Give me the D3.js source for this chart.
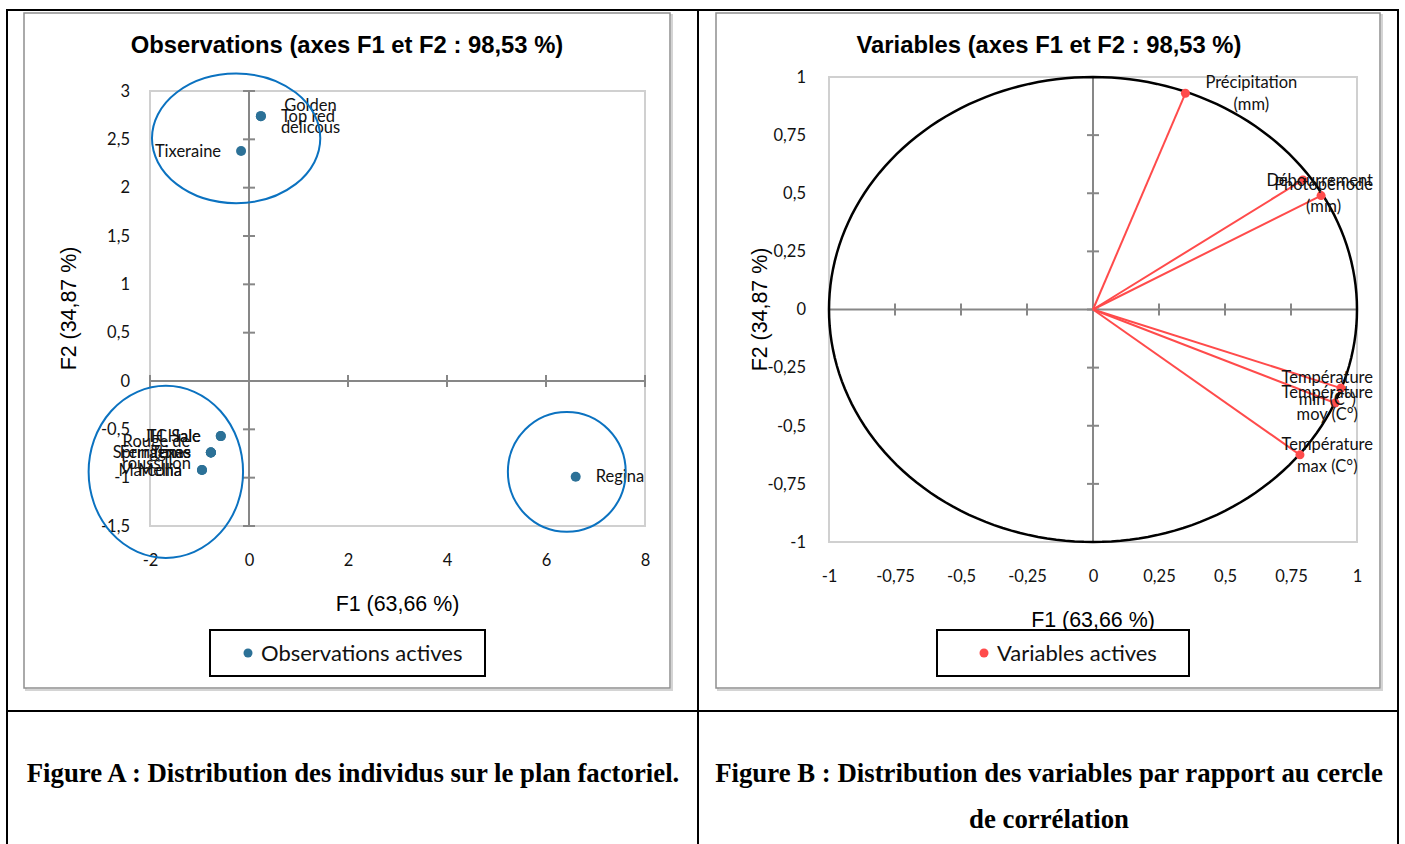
<!DOCTYPE html>
<html>
<head>
<meta charset="utf-8">
<script src="https://cdn.jsdelivr.net/npm/d3@7"></script>
<style>
  body { margin: 0; background: #fff; }
  svg { display: block; }
</style>
</head>
<body>
<svg id="fig" width="1405" height="844"></svg>
<script>
// ---- Observations (individuals) on the F1/F2 plane ----
const obsNames = ["Golden delicous", "Top red", "Tixeraine", "JH Hale", "TC Sale",
                  "Rouge de roussillon", "Springtime", "Ferragnes", "Texas",
                  "Marcona", "Mellia", "Regina"];
const obsF1 = [0.24, 0.24, -0.16, -0.57, -0.57, -0.77, -0.77, -0.77, -0.77, -0.95, -0.95, 6.60];
const obsF2 = [2.74, 2.74, 2.38, -0.57, -0.57, -0.74, -0.74, -0.74, -0.74, -0.92, -0.92, -0.99];
const obsLabelSide = ["right", "right", "left", "left", "left",
                      "left", "left", "left", "left", "left", "left", "right"];

// Groups circled on the observation map: centre (F1, F2) and radii in axis units
const groupCx = [-0.26, -1.68, 6.42];
const groupCy = [2.51, -0.94, -0.94];
const groupRx = [1.70, 1.56, 1.19];
const groupRy = [0.67, 0.89, 0.62];

const obsTicksX = [-2, 0, 2, 4, 6, 8];
const obsTicksY = [-1.5, -1, -0.5, 0, 0.5, 1, 1.5, 2, 2.5, 3];

// ---- Variables on the correlation circle ----
const varNames = ["Précipitation (mm)", "Débourrement", "Photopériode (min)",
                  "Température min (C°)", "Température moy (C°)", "Température max (C°)"];
const varF1 = [0.35, 0.795, 0.864, 0.939, 0.917, 0.784];
const varF2 = [0.93, 0.557, 0.49, -0.338, -0.402, -0.625];

const varTicks = [-1, -0.75, -0.5, -0.25, 0, 0.25, 0.5, 0.75, 1];

const titleA = "Observations (axes F1 et F2 : 98,53 %)";
const titleB = "Variables (axes F1 et F2 : 98,53 %)";
const axisTitleX = "F1 (63,66 %)";
const axisTitleY = "F2 (34,87 %)";
const legendA = "Observations actives";
const legendB = "Variables actives";
const captionA = ["Figure A : Distribution des individus sur le plan factoriel."];
const captionB = ["Figure B : Distribution des variables par rapport au cercle", "de corrélation"];

// ---- styling ----
const FONT_LBL = "Lato, 'Open Sans', sans-serif";
const FONT_SANS = "'Liberation Sans', Arial, sans-serif";
const FONT_SERIF = "'Liberation Serif', 'Times New Roman', serif";
const OBS_COLOR = "#2c7197";
const VAR_COLOR = "#ff4b4b";
const GROUP_COLOR = "#0b72c0";
const LBL_SIZE = 16.5;
const LBL_LINE = 22;

const fr = d3.formatLocale({decimal: ",", thousands: " ", grouping: [3], currency: ["", "€"], minus: "-"});
const fmt = fr.format("~g");

const svg = d3.select("#fig");

// ---- table grid ----
const grid = svg.append("g").attr("stroke", "#000").attr("stroke-width", 2).attr("fill", "none");
grid.append("line").attr("x1", 6).attr("x2", 1399).attr("y1", 10).attr("y2", 10);
grid.append("line").attr("x1", 6).attr("x2", 1399).attr("y1", 711).attr("y2", 711);
grid.append("line").attr("x1", 7).attr("x2", 7).attr("y1", 9).attr("y2", 844);
grid.append("line").attr("x1", 698).attr("x2", 698).attr("y1", 9).attr("y2", 844);
grid.append("line").attr("x1", 1398).attr("x2", 1398).attr("y1", 9).attr("y2", 844);

// chart frames with a soft shadow
function frame(x, y, w, h) {
  svg.append("rect").attr("x", x + 2).attr("y", y + 2).attr("width", w).attr("height", h)
    .attr("fill", "none").attr("stroke", "#d4d4d4").attr("stroke-width", 2);
  svg.append("rect").attr("x", x).attr("y", y).attr("width", w).attr("height", h)
    .attr("fill", "#fff").attr("stroke", "#8f8f8f").attr("stroke-width", 1.5);
}
frame(24, 13, 646, 675);
frame(716, 13, 664, 675);

// ---- helpers ----
const measurer = svg.append("text").attr("font-family", FONT_LBL).attr("font-size", LBL_SIZE)
  .attr("visibility", "hidden");
function textWidth(s) { measurer.text(s); return measurer.node().getComputedTextLength(); }
function wrap(s) {
  const maxW = 6.45 * LBL_SIZE;
  const words = s.split(" ");
  const lines = [];
  let cur = "";
  words.forEach(w => {
    const test = cur ? cur + " " + w : w;
    if (cur && textWidth(test) > maxW) { lines.push(cur); cur = w; } else cur = test;
  });
  if (cur) lines.push(cur);
  return lines;
}
function dataLabel(g, s, px, py, side, rightLimit) {
  const lines = wrap(s);
  const w = d3.max(lines, textWidth);
  let cx = side === "left" ? px - 20 - w / 2 : px + 20 + w / 2;
  if (rightLimit !== undefined && cx + w / 2 > rightLimit) cx = rightLimit - w / 2;
  const y0 = py - (lines.length - 1) * LBL_LINE / 2 + LBL_SIZE * 0.35;
  const t = g.append("text").attr("font-family", FONT_LBL).attr("font-size", LBL_SIZE)
    .attr("text-anchor", "middle").attr("fill", "#111");
  lines.forEach((l, i) => t.append("tspan").attr("x", cx).attr("y", y0 + i * LBL_LINE).text(l));
}

function panelFrame(cfg) {
  const {x, y, ticksX, ticksY, title, titleX, yTitleX, xTitleY, legendBox, legendText, color} = cfg;
  const [x0, x1] = x.range();
  const [y0, y1] = y.range(); // y0 bottom, y1 top
  const g = svg.append("g");

  g.append("text").attr("x", titleX).attr("y", 53).attr("text-anchor", "middle")
    .attr("font-family", FONT_SANS).attr("font-weight", "bold").attr("font-size", 23.8)
    .attr("fill", "#000").text(title);

  // plot area outline
  g.append("rect").attr("x", x0).attr("y", y1).attr("width", x1 - x0).attr("height", y0 - y1)
    .attr("fill", "none").attr("stroke", "#d0d0d0").attr("stroke-width", 2);

  // tick labels along the plot edges
  const ay = g.append("g").attr("transform", `translate(${x0},0)`)
    .call(d3.axisLeft(y).tickValues(ticksY).tickFormat(fmt).tickSize(0).tickPadding(cfg.yPad));
  const ax = g.append("g").attr("transform", `translate(0,${y0})`)
    .call(d3.axisBottom(x).tickValues(ticksX).tickFormat(fmt).tickSize(0).tickPadding(cfg.xPad));
  [ax, ay].forEach(a => {
    a.select(".domain").remove();
    a.selectAll("text").attr("font-family", FONT_LBL).attr("font-size", LBL_SIZE).attr("fill", "#111");
  });

  // zero axes with crossing tick marks
  const zx = x(0), zy = y(0);
  const zero = g.append("g").attr("stroke", "#878787").attr("stroke-width", 2);
  zero.append("line").attr("x1", zx).attr("x2", zx).attr("y1", y1).attr("y2", y0);
  zero.append("line").attr("x1", x0).attr("x2", x1).attr("y1", zy).attr("y2", zy);
  zero.selectAll(".ty").data(ticksY).join("line").attr("class", "ty")
    .attr("x1", zx - 6).attr("x2", zx + 6).attr("y1", d => y(d)).attr("y2", d => y(d));
  zero.selectAll(".tx").data(ticksX).join("line").attr("class", "tx")
    .attr("y1", zy - 6).attr("y2", zy + 6).attr("x1", d => x(d)).attr("x2", d => x(d));

  // axis titles
  g.append("text").attr("x", (x0 + x1) / 2).attr("y", xTitleY).attr("text-anchor", "middle")
    .attr("font-family", FONT_SANS).attr("font-size", 21.4).attr("fill", "#000").text(axisTitleX);
  g.append("text").attr("transform", `translate(${yTitleX},${(y0 + y1) / 2}) rotate(-90)`)
    .attr("text-anchor", "middle").attr("font-family", FONT_SANS).attr("font-size", 21.4)
    .attr("fill", "#000").text(axisTitleY);

  // legend
  const [lx, ly, lw, lh] = legendBox;
  g.append("rect").attr("x", lx).attr("y", ly).attr("width", lw).attr("height", lh)
    .attr("fill", "#fff").attr("stroke", "#000").attr("stroke-width", 2);
  g.append("circle").attr("cx", cfg.legendDotX).attr("cy", ly + lh / 2).attr("r", 4.5).attr("fill", color);
  g.append("text").attr("x", cfg.legendDotX + 13).attr("y", ly + lh / 2 + 7.5)
    .attr("font-family", FONT_LBL).attr("font-size", 22).attr("fill", "#111").text(legendText);
  return g;
}

// ---- Panel A: observations ----
const xA = d3.scaleLinear().domain([-2, 8]).range([150, 645]);
const yA = d3.scaleLinear().domain([-1.5, 3]).range([526, 91]);
const gA = panelFrame({x: xA, y: yA, ticksX: obsTicksX, ticksY: obsTicksY, title: titleA,
  titleX: 347, yTitleX: 76, xTitleY: 611, yPad: 20, xPad: 28,
  legendBox: [210, 630, 275, 46], legendDotX: 248, legendText: legendA, color: OBS_COLOR});

const obs = obsNames.map((n, i) => ({name: n, f1: obsF1[i], f2: obsF2[i], side: obsLabelSide[i]}));
gA.append("g").selectAll("circle").data(obs).join("circle")
  .attr("cx", d => xA(d.f1)).attr("cy", d => yA(d.f2)).attr("r", 5).attr("fill", OBS_COLOR);
const labA = gA.append("g");
obs.forEach(d => dataLabel(labA, d.name, xA(d.f1), yA(d.f2), d.side));

const groups = groupCx.map((c, i) => ({cx: c, cy: groupCy[i], rx: groupRx[i], ry: groupRy[i]}));
gA.append("g").selectAll("ellipse").data(groups).join("ellipse")
  .attr("cx", d => xA(d.cx)).attr("cy", d => yA(d.cy))
  .attr("rx", d => xA(d.cx + d.rx) - xA(d.cx)).attr("ry", d => yA(d.cy) - yA(d.cy + d.ry))
  .attr("fill", "none").attr("stroke", GROUP_COLOR).attr("stroke-width", 2);

// ---- Panel B: correlation circle ----
const xB = d3.scaleLinear().domain([-1, 1]).range([829, 1357]);
const yB = d3.scaleLinear().domain([-1, 1]).range([542, 77]);
const gB = panelFrame({x: xB, y: yB, ticksX: varTicks, ticksY: varTicks, title: titleB,
  titleX: 1049, yTitleX: 767, xTitleY: 627, yPad: 23, xPad: 28,
  legendBox: [937, 630, 252, 46], legendDotX: 984, legendText: legendB, color: VAR_COLOR});

const circlePts = d3.range(0, 361, 2).map(a => [Math.cos(a * Math.PI / 180), Math.sin(a * Math.PI / 180)]);
gB.append("path").datum(circlePts)
  .attr("d", d3.line().x(d => xB(d[0])).y(d => yB(d[1])))
  .attr("fill", "none").attr("stroke", "#000").attr("stroke-width", 2.5);

const vars = varNames.map((n, i) => ({name: n, f1: varF1[i], f2: varF2[i]}));
gB.append("g").selectAll("line").data(vars).join("line")
  .attr("x1", xB(0)).attr("y1", yB(0)).attr("x2", d => xB(d.f1)).attr("y2", d => yB(d.f2))
  .attr("stroke", VAR_COLOR).attr("stroke-width", 2);
gB.append("g").selectAll("circle").data(vars).join("circle")
  .attr("cx", d => xB(d.f1)).attr("cy", d => yB(d.f2)).attr("r", 4.5).attr("fill", VAR_COLOR);
const labB = gB.append("g");
vars.forEach(d => dataLabel(labB, d.name, xB(d.f1), yB(d.f2), "right", 1373));

// ---- captions ----
function caption(lines, cx, y0) {
  const t = svg.append("text").attr("text-anchor", "middle").attr("font-family", FONT_SERIF)
    .attr("font-weight", "bold").attr("font-size", 26.8).attr("fill", "#000");
  lines.forEach((l, i) => t.append("tspan").attr("x", cx).attr("y", y0 + i * 46).text(l));
}
caption(captionA, 353, 782);
caption(captionB, 1049, 782);
measurer.remove();
</script>
</body>
</html>
